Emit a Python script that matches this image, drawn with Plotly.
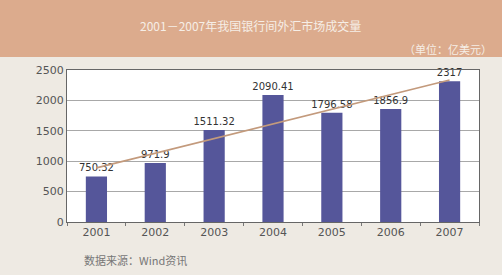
import plotly.graph_objects as go

years = ["2001", "2002", "2003", "2004", "2005", "2006", "2007"]
volumes = [750.32, 971.9, 1511.32, 2090.41, 1796.58, 1856.9, 2317]
value_labels = ["750.32", "971.9", "1511.32", "2090.41", "1796.58", "1856.9", "2317"]
trend = [890, 1131, 1372, 1613, 1855, 2096, 2337]
y_ticks = [0, 500, 1000, 1500, 2000, 2500]

title_text = "2001－2007年我国银行间外汇市场成交量"
unit_text = "（单位：亿美元）"
source_text = "数据来源：Wind资讯"

font_main = "Noto Sans CJK SC, DejaVu Sans, sans-serif"

fig = go.Figure()
fig.add_trace(go.Bar(
    x=years, y=volumes, width=0.36,
    marker=dict(color="#55569a", line=dict(width=0)),
    text=value_labels, textposition="outside", cliponaxis=False,
    constraintext="none", textangle=0,
    textfont=dict(size=10, color="#333333", family="DejaVu Sans"),
    showlegend=False,
))
fig.add_trace(go.Scatter(
    x=years, y=trend, mode="lines",
    line=dict(color="#c39a7c", width=1.6),
    showlegend=False, hoverinfo="skip",
))

fig.update_layout(
    width=502, height=275,
    margin=dict(l=67, r=23, t=70, b=53),
    paper_bgcolor="#eeeae3",
    plot_bgcolor="#ffffff",
    font=dict(family=font_main, size=11, color="#555555"),
    uniformtext=dict(mode=False),
    shapes=[
        dict(type="rect", xref="paper", yref="paper", x0=-0.2, x1=1.1,
             y0=1 + (70 - 57) / 152, y1=1.5,
             fillcolor="#dcab8d", line=dict(width=0), layer="below"),
    ],
    annotations=[
        dict(text=title_text, xref="paper", yref="paper",
             x=(250 - 67) / 412, y=1 + (70 - 25) / 152, showarrow=False,
             font=dict(size=12, color="#f6eee6", family=font_main),
             xanchor="center", yanchor="middle"),
        dict(text=unit_text, xref="paper", yref="paper",
             x=(494 - 67) / 412, y=1 + (70 - 49) / 152, showarrow=False,
             font=dict(size=11, color="#f6eee6", family=font_main),
             xanchor="right", yanchor="middle"),
        dict(text=source_text, xref="paper", yref="paper",
             x=(82 - 67) / 412, y=-(260 - 222) / 152, showarrow=False,
             font=dict(size=11, color="#777777", family=font_main),
             xanchor="left", yanchor="middle"),
    ],
)
fig.update_xaxes(
    type="category", range=[-0.5, 6.5],
    showline=True, linecolor="#666666", linewidth=1, mirror=True,
    ticks="outside", tickson="boundaries", ticklen=3, tickcolor="#777777",
    tickfont=dict(size=11, color="#555555", family="DejaVu Sans"),
    showgrid=False,
)
fig.update_yaxes(
    range=[0, 2500], tickvals=y_ticks,
    showline=True, linecolor="#666666", linewidth=1, mirror=True,
    gridcolor="#a8a8a8", gridwidth=1,
    ticks="", tickfont=dict(size=11, color="#555555", family="DejaVu Sans"),
    zeroline=False,
)

fig.write_html("out.html")
